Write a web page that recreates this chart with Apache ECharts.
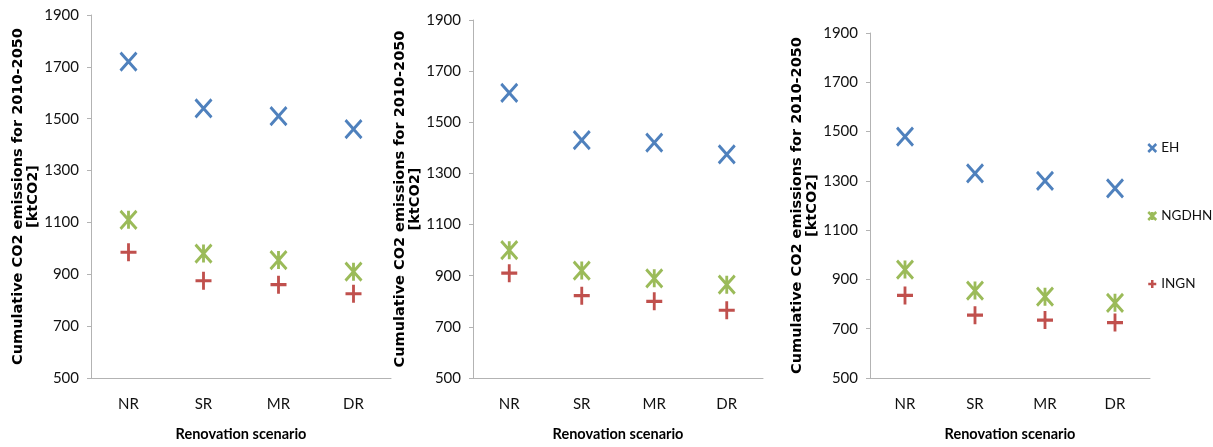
<!DOCTYPE html>
<html>
<head>
<meta charset="utf-8">
<script src="https://cdn.jsdelivr.net/npm/echarts@6/dist/echarts.min.js"></script>
<style>
html,body{margin:0;padding:0;background:#fff;}
#chart{width:1213px;height:447px;}
</style>
</head>
<body>
<div id="chart"></div>
<script>
// ---- data ----
const categories = ['NR', 'SR', 'MR', 'DR'];
const seriesNames = ['EH', 'NGDHN', 'INGN'];
const panel1EH = [1720, 1540, 1510, 1460];
const panel1NGDHN = [1110, 980, 955, 910];
const panel1INGN = [985, 875, 860, 825];
const panel2EH = [1615, 1430, 1420, 1375];
const panel2NGDHN = [1000, 920, 890, 865];
const panel2INGN = [910, 822, 800, 765];
const panel3EH = [1480, 1330, 1300, 1270];
const panel3NGDHN = [940, 855, 830, 805];
const panel3INGN = [835, 755, 735, 725];
const yMin = 500, yMax = 1900, yStep = 200;
const yTitle = 'Cumulative CO2 emissions for 2010-2050\n[ktCO2]';
const xTitle = 'Renovation scenario';

// ---- styles ----
const colors = { EH: '#4f81bd', NGDHN: '#9bbb59', INGN: '#c0504d' };
const symbols = {
  EH: 'path://M0 0 L100 100 M100 0 L0 100',
  NGDHN: 'path://M0 0 L100 100 M100 0 L0 100 M50 0 L50 100',
  INGN: 'path://M50 0 L50 100 M0 50 L100 50'
};
const grids = [
  { left: 91, top: 15, width: 300, height: 367 },
  { left: 473, top: 20, width: 290, height: 362 },
  { left: 870, top: 33, width: 280, height: 351 }
];
const panels = [
  { EH: panel1EH, NGDHN: panel1NGDHN, INGN: panel1INGN },
  { EH: panel2EH, NGDHN: panel2NGDHN, INGN: panel2INGN },
  { EH: panel3EH, NGDHN: panel3NGDHN, INGN: panel3INGN }
];
const axisColor = '#b3b3b3';
const labelFont = 'Lato, "Open Sans", sans-serif';

const xAxes = grids.map((g, i) => ({
  type: 'category', gridIndex: i, data: categories,
  boundaryGap: true,
  axisLine: { lineStyle: { color: axisColor, width: 1 } },
  axisTick: { alignWithLabel: true, length: 5, lineStyle: { color: axisColor } },
  axisLabel: { color: '#111', fontSize: 15, fontFamily: labelFont, margin: 19 },
  name: xTitle, nameLocation: 'middle', nameGap: 49,
  nameTextStyle: { color: '#000', fontSize: 14.5, fontWeight: 'bold', fontFamily: labelFont },
  splitLine: { show: false }
}));
const yAxes = grids.map((g, i) => ({
  type: 'value', gridIndex: i, min: yMin, max: yMax, interval: yStep,
  axisLine: { show: true, lineStyle: { color: axisColor, width: 1 } },
  axisTick: { show: true, length: 4, lineStyle: { color: axisColor } },
  axisLabel: { color: '#111', fontSize: 15, fontFamily: labelFont, margin: 12, formatter: v => String(v) },
  splitLine: { show: false },
  name: yTitle, nameLocation: 'middle', nameRotate: 90, nameGap: 49,
  nameTextStyle: { color: '#000', fontSize: 14.5, fontWeight: 'bold', fontFamily: '"DejaVu Sans", sans-serif', lineHeight: 15, align: 'center' }
}));
const series = [];
panels.forEach((p, i) => {
  seriesNames.forEach(n => {
    series.push({
      name: n, type: 'scatter', xAxisIndex: i, yAxisIndex: i,
      data: p[n], symbol: symbols[n], symbolSize: [16, 18],
      itemStyle: { color: 'rgba(0,0,0,0)', borderColor: colors[n], borderWidth: 3, opacity: 1 },
      emphasis: { disabled: true }
    });
  });
});

const chart = echarts.init(document.getElementById('chart'), null, { renderer: 'canvas' });
chart.setOption({
  animation: false,
  backgroundColor: '#fff',
  grid: grids,
  xAxis: xAxes,
  yAxis: yAxes,
  legend: {
    orient: 'vertical', left: 1142, top: 136, itemGap: 54,
    itemWidth: 8, itemHeight: 10,
    data: seriesNames,
    textStyle: { color: '#111', fontSize: 13.5, fontFamily: labelFont },
    itemStyle: { borderWidth: 2.5 }
  },
  series: series
});
</script>
</body>
</html>
